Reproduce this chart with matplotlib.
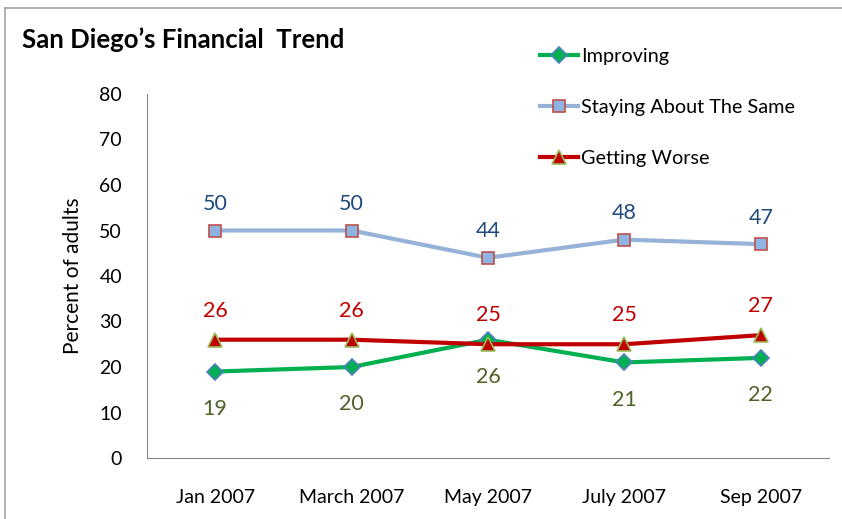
import matplotlib
matplotlib.use('Agg')
from matplotlib import pyplot as plt
from matplotlib.lines import Line2D

plt.rcParams['font.family'] = ['Lato', 'DejaVu Sans']

months = ['Jan 2007', 'March 2007', 'May 2007', 'July 2007', 'Sep 2007']
improving = [19, 20, 26, 21, 22]
staying = [50, 50, 44, 48, 47]
worse = [26, 26, 25, 25, 27]

fig = plt.figure(figsize=(8.42, 5.19), dpi=100)

# outer chart frame (cropped on right and bottom)
fig.add_artist(Line2D([5 / 842, 5 / 842], [0, 1 - 8 / 519], color='#a6a6a6', lw=1.2))
fig.add_artist(Line2D([5 / 842, 1], [1 - 8 / 519, 1 - 8 / 519], color='#a6a6a6', lw=1.2))

ax = fig.add_axes([147 / 842, 1 - 458 / 519, (829 - 147) / 842, (458 - 94) / 519])
x = range(len(months))

ax.plot(x, improving, color='#00b050', lw=3, marker='D', markersize=8,
        markerfacecolor='#00b050', markeredgecolor='#4f81bd', markeredgewidth=1.2,
        label='Improving', zorder=3)
ax.plot(x, staying, color='#95b3d7', lw=3, marker='s', markersize=9,
        markerfacecolor='#8eb4e3', markeredgecolor='#c0504d', markeredgewidth=1.2,
        label='Staying About The Same', zorder=3)
ax.plot(x, worse, color='#c00000', lw=3, marker='^', markersize=10,
        markerfacecolor='#c00000', markeredgecolor='#9bbb59', markeredgewidth=1.2,
        label='Getting Worse', zorder=4)

# data labels
for i in x:
    ax.annotate(str(staying[i]), (i, staying[i]), xytext=(0, 19), textcoords='offset points',
                ha='center', va='center', fontsize=15.5, color='#1f497d')
    ax.annotate(str(worse[i]), (i, worse[i]), xytext=(0, 21), textcoords='offset points',
                ha='center', va='center', fontsize=15.5, color='#c00000')
    ax.annotate(str(improving[i]), (i, improving[i]), xytext=(0, -27), textcoords='offset points',
                ha='center', va='center', fontsize=15.5, color='#4f6228')

ax.set_xlim(-0.5, len(months) - 0.5)
ax.set_ylim(0, 80)
ax.set_yticks(range(0, 81, 10))
ax.set_xticks(list(x))
ax.set_xticklabels(months)
ax.tick_params(axis='both', length=0, labelsize=14, colors='black')
ax.tick_params(axis='y', pad=18)
ax.tick_params(axis='x', pad=22)
ax.spines['top'].set_visible(False)
ax.spines['right'].set_visible(False)
ax.spines['left'].set_color('#868686')
ax.spines['bottom'].set_color('#868686')
ax.set_ylabel('Percent of adults', fontsize=15, labelpad=12)

fig.text(22 / 842, 1 - 40 / 519, 'San Diego\u2019s Financial  Trend', fontsize=18.5,
         fontweight='bold', ha='left', va='center')

fig.legend(loc='upper left', bbox_to_anchor=(540 / 842, 1 - 48 / 519), frameon=False,
           fontsize=14.3, labelspacing=1.7, handlelength=1.9, handletextpad=0.15,
           borderpad=0, borderaxespad=0)

fig.savefig('out.png', dpi=100)
